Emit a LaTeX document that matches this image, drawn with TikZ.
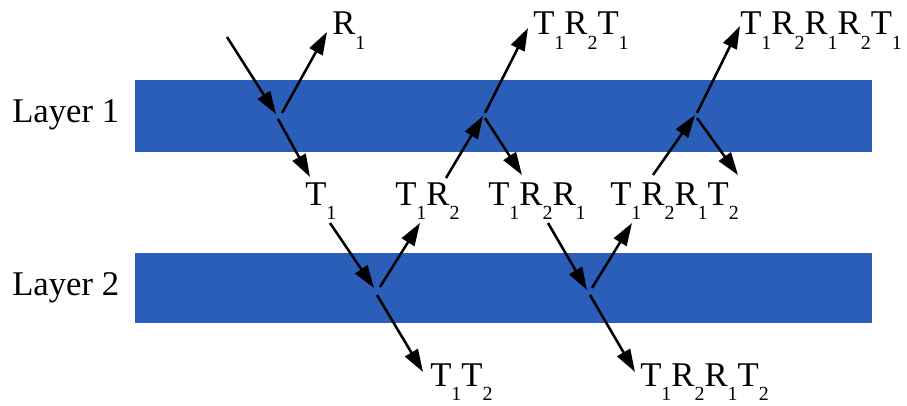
\documentclass[tikz,border=0pt]{standalone}
\usepackage{fontspec}
\setmainfont{Liberation Serif}
\usetikzlibrary{arrows.meta}
\definecolor{bandblue}{RGB}{42,94,184}
\newcommand{\lo}[1]{\raisebox{-11pt}{\fontsize{15}{16}\selectfont #1}}
\begin{document}
\begin{tikzpicture}[x=0.75pt,y=-0.75pt,
  band/.style={fill=bandblue,draw=none},
  lbl/.style={anchor=base west,inner sep=0pt,font=\fontsize{26}{28}\selectfont},
  ray/.style={line width=1.9pt,-{Triangle[length=17pt,width=11pt]}}]
\useasboundingbox (0,0) rectangle (907,406);
\fill[white] (0,0) rectangle (907,406);
% bands
\path[band] (135,80) rectangle (872,152);
\path[band] (135,253) rectangle (872,323);
\node[lbl] (L1) at (12,123) {Layer 1};
\node[lbl] (L2) at (12,295) {Layer 2};
% labels
\node[lbl] (r1) at (332,35) {R\lo{1}};
\node[lbl] (trt) at (533,35) {T\lo{1}R\lo{2}T\lo{1}};
\node[lbl] (trrrt) at (740,35) {T\lo{1}R\lo{2}R\lo{1}R\lo{2}T\lo{1}};
\node[lbl] (t1) at (305,205) {T\lo{1}};
\node[lbl] (tr) at (395,205) {T\lo{1}R\lo{2}};
\node[lbl] (trr) at (488,205) {T\lo{1}R\lo{2}R\lo{1}};
\node[lbl] (trrt) at (610,205) {T\lo{1}R\lo{2}R\lo{1}T\lo{2}};
\node[lbl] (tt) at (430,386) {T\lo{1}T\lo{2}};
\node[lbl] (trrt2) at (640,386) {T\lo{1}R\lo{2}R\lo{1}T\lo{2}};
% points
\coordinate (in0) at (227,37);
\coordinate (p1a) at (276,114);
\coordinate (p1b) at (278,119);
\coordinate (p1c) at (282,113);
\coordinate (r1e) at (327,32);
\coordinate (t1e) at (310,177);
\coordinate (t1s) at (330,223);
\coordinate (p2a) at (374,288);
\coordinate (p2b) at (377,295);
\coordinate (p2c) at (380,287);
\coordinate (tte) at (423,372);
\coordinate (tre) at (420,223);
\coordinate (trs) at (446,178);
\coordinate (p3a) at (483,116);
\coordinate (p3b) at (485,113);
\coordinate (p3c) at (485,118);
\coordinate (trte) at (528,28);
\coordinate (trre) at (522,175);
\coordinate (trrs) at (548,223);
\coordinate (p4a) at (587,290);
\coordinate (p4b) at (590,295);
\coordinate (p4c) at (592,288);
\coordinate (trrt2e) at (635,372);
\coordinate (trrte) at (632,223);
\coordinate (trrts) at (653,175);
\coordinate (p5a) at (695,115);
\coordinate (p5b) at (697,113);
\coordinate (p5c) at (697,118);
\coordinate (trrrte) at (740,26);
\coordinate (p5d) at (738,175);
% rays
\draw[ray] (in0) -- (p1a);
\draw[ray] (p1c) -- (r1e);
\draw[ray] (p1b) -- (t1e);
\draw[ray] (t1s) -- (p2a);
\draw[ray] (p2b) -- (tte);
\draw[ray] (p2c) -- (tre);
\draw[ray] (trs) -- (p3a);
\draw[ray] (p3b) -- (trte);
\draw[ray] (p3c) -- (trre);
\draw[ray] (trrs) -- (p4a);
\draw[ray] (p4b) -- (trrt2e);
\draw[ray] (p4c) -- (trrte);
\draw[ray] (trrts) -- (p5a);
\draw[ray] (p5b) -- (trrrte);
\draw[ray] (p5c) -- (p5d);
\end{tikzpicture}
\end{document}
